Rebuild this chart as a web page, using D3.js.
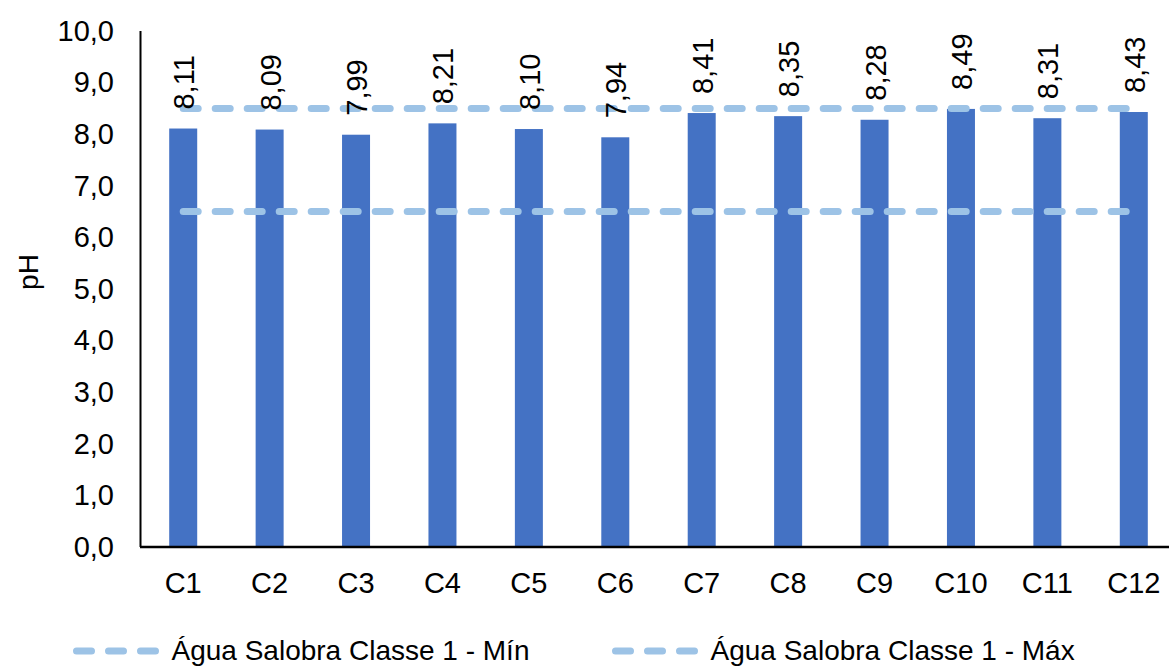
<!DOCTYPE html>
<html>
<head>
<meta charset="utf-8">
<script src="https://cdn.jsdelivr.net/npm/d3@7/dist/d3.min.js"></script>
<style>
  html, body { margin: 0; padding: 0; background: #fff; }
  svg { display: block; font-family: "Liberation Sans", Arial, sans-serif; }
</style>
</head>
<body>
<svg id="chart" width="1169" height="666"></svg>
<script>
const categories = ["C1","C2","C3","C4","C5","C6","C7","C8","C9","C10","C11","C12"];
const phValues = [8.11, 8.09, 7.99, 8.21, 8.10, 7.94, 8.41, 8.35, 8.28, 8.49, 8.31, 8.43];
const limitMin = [6.5, 6.5, 6.5, 6.5, 6.5, 6.5, 6.5, 6.5, 6.5, 6.5, 6.5, 6.5];
const limitMax = [8.5, 8.5, 8.5, 8.5, 8.5, 8.5, 8.5, 8.5, 8.5, 8.5, 8.5, 8.5];
const yTicks = [0,1,2,3,4,5,6,7,8,9,10];
const legendLabels = ["Água Salobra Classe 1 - Mín", "Água Salobra Classe 1 - Máx"];
const yTitle = "pH";

const svg = d3.select("#chart");
const fmt = v => d3.format(".1f")(v).replace(".", ",");
const fmt2 = v => d3.format(".2f")(v).replace(".", ",");

const x = d3.scaleBand().domain(categories).range([140, 1177]).paddingInner(0.676).paddingOuter(0.338);
const y = d3.scaleLinear().domain([0, 10]).range([547, 31]);

const barColor = "#4472C4";
const lineColor = "#9DC3E6";
const fontSize = 29;

// bars
svg.append("g").selectAll("rect").data(phValues).join("rect")
  .attr("x", (d,i) => x(categories[i]))
  .attr("y", d => y(d))
  .attr("width", x.bandwidth())
  .attr("height", d => y(0) - y(d))
  .attr("fill", barColor);

// limit lines
const line = d3.line().x((d,i) => x(categories[i]) + x.bandwidth()/2).y(d => y(d));
[limitMin, limitMax].forEach(arr => {
  svg.append("path").datum(arr)
    .attr("d", line)
    .attr("fill", "none")
    .attr("stroke", lineColor)
    .attr("stroke-width", 7)
    .attr("stroke-linecap", "round")
    .attr("stroke-dasharray", "15,17");
});

// data labels
svg.append("g").selectAll("text").data(phValues).join("text")
  .attr("transform", (d,i) => `translate(${x(categories[i]) + x.bandwidth()/2 + 1},${y(d) - 19}) rotate(-90)`)
  .attr("text-anchor", "start")
  .attr("dominant-baseline", "central")
  .attr("font-size", fontSize)
  .attr("fill", "#000")
  .text(d => fmt2(d));

// y axis
const yAxis = d3.axisLeft(y).tickValues(yTicks).tickFormat(fmt).tickSize(0).tickPadding(26);
const gy = svg.append("g").attr("transform", "translate(140,0)").call(yAxis);
gy.select(".domain").remove();
gy.selectAll("text").attr("font-size", fontSize).attr("fill", "#000").attr("font-family", "Liberation Sans, Arial, sans-serif");
svg.append("line").attr("x1", 140.5).attr("x2", 140.5).attr("y1", y(10)).attr("y2", y(0)).attr("stroke", "#000").attr("stroke-width", 2);

// x axis
const xAxis = d3.axisBottom(x).tickSize(0).tickPadding(25);
const gx = svg.append("g").attr("transform", `translate(0,${y(0)})`).call(xAxis);
gx.select(".domain").remove();
gx.selectAll("text").attr("font-size", fontSize).attr("fill", "#000").attr("font-family", "Liberation Sans, Arial, sans-serif");
svg.append("line").attr("x1", 140).attr("x2", 1169).attr("y1", y(0)).attr("y2", y(0)).attr("stroke", "#000").attr("stroke-width", 2.5);

// y title
svg.append("text")
  .attr("transform", `translate(28,272) rotate(-90)`)
  .attr("text-anchor", "middle")
  .attr("dominant-baseline", "central")
  .attr("font-size", 28)
  .attr("fill", "#000")
  .text(yTitle);

// legend
const legendItems = [{x: 76.5, label: legendLabels[0]}, {x: 615.5, label: legendLabels[1]}];
const lg = svg.append("g");
legendItems.forEach(it => {
  lg.append("line")
    .attr("x1", it.x).attr("x2", it.x + 83)
    .attr("y1", 651).attr("y2", 651)
    .attr("stroke", lineColor).attr("stroke-width", 7)
    .attr("stroke-linecap", "round").attr("stroke-dasharray", "15,17");
  lg.append("text")
    .attr("x", it.x + 95).attr("y", 660)
    .attr("font-size", 28).attr("fill", "#000")
    .text(it.label);
});
</script>
</body>
</html>
